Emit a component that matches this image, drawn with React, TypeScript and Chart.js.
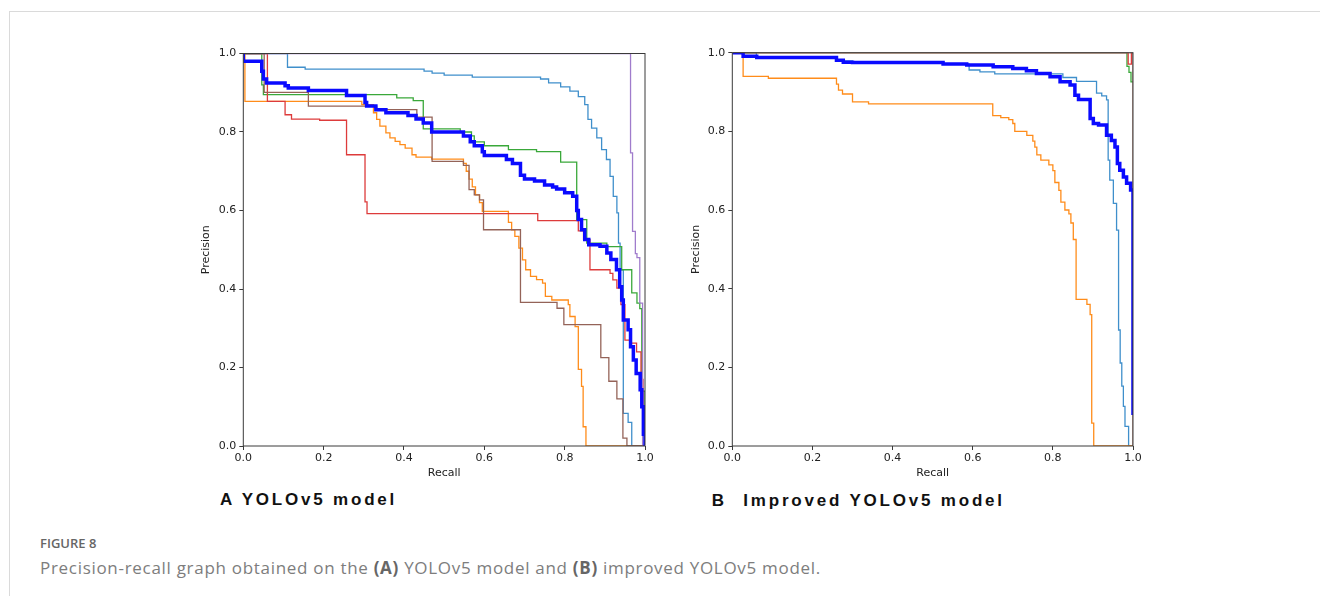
import React, { useEffect, useRef } from "react";
import { Chart, registerables } from "chart.js";

Chart.register(...registerables);

// ---------- tick labels ----------
const axisTicks = [0, 0.2, 0.4, 0.6, 0.8, 1.0];

// ---------- Panel A: YOLOv5 model ----------
const aAllRecall = [0, 0, 0.046, 0.05, 0.058, 0.104, 0.112, 0.162, 0.257, 0.303, 0.307, 0.33, 0.355, 0.41, 0.43, 0.448, 0.469, 0.548, 0.565, 0.575, 0.595, 0.6, 0.655, 0.67, 0.69, 0.7, 0.725, 0.75, 0.77, 0.78, 0.8, 0.82, 0.83, 0.834, 0.842, 0.85, 0.86, 0.888, 0.905, 0.915, 0.929, 0.937, 0.942, 0.946, 0.958, 0.964, 0.971, 0.978, 0.988, 0.992, 0.996, 1.0];
const aAllPrecision = [1.0, 0.98, 0.955, 0.935, 0.925, 0.918, 0.912, 0.906, 0.893, 0.875, 0.866, 0.857, 0.849, 0.842, 0.833, 0.823, 0.8, 0.79, 0.775, 0.765, 0.75, 0.74, 0.73, 0.72, 0.69, 0.68, 0.675, 0.665, 0.66, 0.655, 0.645, 0.636, 0.6, 0.577, 0.551, 0.526, 0.513, 0.509, 0.492, 0.475, 0.449, 0.406, 0.372, 0.321, 0.296, 0.253, 0.219, 0.185, 0.143, 0.1, 0.03, 0.0];

const aBlueRecall = [0, 0.11, 0.154, 0.45, 0.47, 0.5, 0.57, 0.74, 0.76, 0.79, 0.813, 0.834, 0.85, 0.858, 0.867, 0.88, 0.892, 0.904, 0.913, 0.921, 0.93, 0.934, 0.938, 0.946, 0.958, 0.967, 1.0];
const aBluePrecision = [1.0, 0.965, 0.96, 0.955, 0.95, 0.945, 0.94, 0.935, 0.925, 0.915, 0.904, 0.89, 0.87, 0.832, 0.81, 0.785, 0.755, 0.73, 0.687, 0.636, 0.594, 0.517, 0.449, 0.083, 0.06, 0.0, 0.0];

const aOrangeRecall = [0, 0.004, 0.295, 0.324, 0.332, 0.34, 0.355, 0.365, 0.378, 0.39, 0.403, 0.42, 0.43, 0.469, 0.548, 0.555, 0.562, 0.57, 0.578, 0.588, 0.595, 0.66, 0.668, 0.676, 0.686, 0.695, 0.703, 0.715, 0.73, 0.745, 0.752, 0.768, 0.809, 0.813, 0.826, 0.834, 0.842, 0.846, 0.853, 1.0];
const aOrangePrecision = [1.0, 0.878, 0.87, 0.849, 0.832, 0.815, 0.798, 0.785, 0.776, 0.768, 0.759, 0.742, 0.736, 0.731, 0.72, 0.7, 0.68, 0.66, 0.64, 0.62, 0.598, 0.57, 0.551, 0.534, 0.504, 0.474, 0.449, 0.432, 0.424, 0.415, 0.381, 0.372, 0.36, 0.33, 0.304, 0.195, 0.152, 0.049, 0.0, 0.0];

const aGreenRecall = [0, 0.046, 0.05, 0.382, 0.423, 0.448, 0.54, 0.568, 0.575, 0.6, 0.66, 0.73, 0.79, 0.83, 0.855, 0.905, 0.942, 0.967, 0.98, 0.987, 0.992, 1.0];
const aGreenPrecision = [1.0, 0.92, 0.895, 0.887, 0.88, 0.808, 0.8, 0.79, 0.775, 0.765, 0.755, 0.75, 0.723, 0.577, 0.517, 0.508, 0.449, 0.39, 0.364, 0.35, 0.14, 0.0];

const aRedRecall = [0, 0.06, 0.104, 0.12, 0.19, 0.257, 0.303, 0.308, 0.733, 0.834, 0.847, 0.863, 0.913, 0.92, 0.93, 0.94, 0.95, 0.963, 0.979, 0.99, 0.995, 1.0];
const aRedPrecision = [1.0, 0.878, 0.844, 0.833, 0.83, 0.742, 0.622, 0.592, 0.574, 0.548, 0.526, 0.449, 0.44, 0.423, 0.402, 0.36, 0.27, 0.262, 0.24, 0.17, 0.05, 0.0];

const aPurpleRecall = [0, 0.964, 0.969, 0.976, 0.98, 0.987, 0.994];
const aPurplePrecision = [1.0, 0.747, 0.547, 0.49, 0.48, 0.364, 0.0];

const aBrownRecall = [0, 0.052, 0.162, 0.332, 0.432, 0.47, 0.548, 0.562, 0.575, 0.588, 0.598, 0.69, 0.781, 0.798, 0.89, 0.91, 0.93, 0.945, 0.955, 1.0];
const aBrownPrecision = [1.0, 0.901, 0.866, 0.857, 0.838, 0.725, 0.715, 0.653, 0.64, 0.627, 0.551, 0.366, 0.351, 0.309, 0.225, 0.165, 0.12, 0.02, 0.0, 0.0];

// ---------- Panel B: Improved YOLOv5 model ----------
const bAllRecall = [0, 0.027, 0.061, 0.26, 0.277, 0.3, 0.526, 0.585, 0.651, 0.7, 0.734, 0.759, 0.793, 0.818, 0.843, 0.855, 0.864, 0.893, 0.901, 0.914, 0.934, 0.946, 0.955, 0.961, 0.967, 0.976, 0.984, 0.994, 1.0];
const bAllPrecision = [1.0, 0.991, 0.988, 0.981, 0.976, 0.975, 0.971, 0.969, 0.964, 0.96, 0.954, 0.947, 0.939, 0.926, 0.918, 0.892, 0.881, 0.833, 0.82, 0.816, 0.79, 0.777, 0.76, 0.718, 0.701, 0.684, 0.668, 0.651, 0.079];

const bBlueRecall = [0, 0.06, 0.26, 0.3, 0.526, 0.591, 0.618, 0.655, 0.825, 0.859, 0.909, 0.922, 0.934, 0.938, 0.942, 0.951, 0.959, 0.964, 0.968, 0.972, 0.976, 0.98, 0.989, 1.0];
const bBluePrecision = [1.0, 0.988, 0.979, 0.975, 0.971, 0.956, 0.951, 0.946, 0.937, 0.927, 0.897, 0.89, 0.88, 0.727, 0.676, 0.617, 0.549, 0.295, 0.211, 0.152, 0.101, 0.05, 0.0, 0.0];

const bOrangeRecall = [0, 0.027, 0.09, 0.26, 0.265, 0.275, 0.3, 0.34, 0.65, 0.67, 0.69, 0.7, 0.705, 0.735, 0.75, 0.755, 0.76, 0.77, 0.79, 0.8, 0.805, 0.815, 0.82, 0.83, 0.84, 0.845, 0.851, 0.858, 0.885, 0.893, 0.897, 0.902, 1.0];
const bOrangePrecision = [1.0, 0.94, 0.935, 0.92, 0.905, 0.895, 0.875, 0.87, 0.84, 0.835, 0.83, 0.82, 0.8, 0.79, 0.775, 0.76, 0.74, 0.727, 0.715, 0.7, 0.67, 0.65, 0.62, 0.6, 0.59, 0.567, 0.525, 0.373, 0.36, 0.334, 0.058, 0.0, 0.0];

const bGreenRecall = [0, 0.985, 0.99, 0.995, 1.0];
const bGreenPrecision = [1.0, 0.965, 0.95, 0.926, 0.926];

const bRedRecall = [0, 0.988, 0.996, 1.0];
const bRedPrecision = [1.0, 0.971, 1.0, 1.0];

const bBrownRecall = [0, 1.0];
const bBrownPrecision = [1.0, 0.0];

// ---------- styles ----------
const COLORS = {
  all: "#0a0aff",
  blue: "#3f8fcb",
  orange: "#ff8c1a",
  green: "#3aa83a",
  red: "#dd3b3b",
  purple: "#a07ccc",
  brown: "#946358",
};

type Series = { recall: number[]; precision: number[]; color: string; width: number };

// first entry is drawn on top in Chart.js
const panelASeries: Series[] = [
  { recall: aAllRecall, precision: aAllPrecision, color: COLORS.all, width: 3.5 },
  { recall: aBrownRecall, precision: aBrownPrecision, color: COLORS.brown, width: 1.3 },
  { recall: aPurpleRecall, precision: aPurplePrecision, color: COLORS.purple, width: 1.3 },
  { recall: aRedRecall, precision: aRedPrecision, color: COLORS.red, width: 1.3 },
  { recall: aGreenRecall, precision: aGreenPrecision, color: COLORS.green, width: 1.3 },
  { recall: aOrangeRecall, precision: aOrangePrecision, color: COLORS.orange, width: 1.3 },
  { recall: aBlueRecall, precision: aBluePrecision, color: COLORS.blue, width: 1.3 },
];

const panelBSeries: Series[] = [
  { recall: bAllRecall, precision: bAllPrecision, color: COLORS.all, width: 3.5 },
  { recall: bBrownRecall, precision: bBrownPrecision, color: COLORS.brown, width: 1.3 },
  { recall: bRedRecall, precision: bRedPrecision, color: COLORS.red, width: 1.3 },
  { recall: bGreenRecall, precision: bGreenPrecision, color: COLORS.green, width: 1.3 },
  { recall: bOrangeRecall, precision: bOrangePrecision, color: COLORS.orange, width: 1.3 },
  { recall: bBlueRecall, precision: bBluePrecision, color: COLORS.blue, width: 1.3 },
];

const framePlugin = {
  id: "frame",
  afterDatasetsDraw(chart: any) {
    const { ctx, chartArea } = chart;
    ctx.save();
    ctx.strokeStyle = "#3a3a3a";
    ctx.lineWidth = 1;
    ctx.strokeRect(chartArea.left, chartArea.top, chartArea.right - chartArea.left, chartArea.bottom - chartArea.top);
    ctx.restore();
  },
};

type Geom = { left: number; top: number; width: number; height: number; yAxisWidth: number; padTop: number; padRight: number; xAxisHeight: number };

function PRPanel({ series, geom }: { series: Series[]; geom: Geom }) {
  const ref = useRef<HTMLCanvasElement | null>(null);
  useEffect(() => {
    if (!ref.current) return;
    const tickFont = { family: "'DejaVu Sans', sans-serif", size: 11 };
    const chart = new Chart(ref.current, {
      type: "line",
      data: {
        datasets: series.map((s) => ({
          data: s.recall.map((r, i) => ({ x: r, y: s.precision[i] })),
          borderColor: s.color,
          backgroundColor: s.color,
          borderWidth: s.width,
          pointRadius: 0,
          stepped: true,
          fill: false,
        })),
      },
      options: {
        animation: false,
        responsive: false,
        maintainAspectRatio: false,
        events: [],
        layout: { padding: { top: geom.padTop, right: geom.padRight, left: 0, bottom: 0 } },
        plugins: { legend: { display: false }, tooltip: { enabled: false } },
        scales: {
          x: {
            type: "linear",
            min: 0,
            max: 1,
            afterBuildTicks: (scale: any) => {
              scale.ticks = axisTicks.map((v) => ({ value: v }));
            },
            afterFit: (scale: any) => {
              scale.height = geom.xAxisHeight;
            },
            ticks: {
              autoSkip: false,
              maxRotation: 0,
              padding: 2,
              color: "#222",
              font: tickFont,
              callback: (v: any) => Number(v).toFixed(1),
            },
            grid: { drawOnChartArea: false, drawTicks: true, tickLength: 4, color: "#3a3a3a" },
            border: { display: false },
            title: { display: true, text: "Recall", color: "#222", font: tickFont, padding: { top: 0, bottom: 0 } },
          },
          y: {
            type: "linear",
            min: 0,
            max: 1,
            afterBuildTicks: (scale: any) => {
              scale.ticks = axisTicks.map((v) => ({ value: v }));
            },
            afterFit: (scale: any) => {
              scale.width = geom.yAxisWidth;
            },
            ticks: {
              autoSkip: false,
              padding: 3,
              color: "#222",
              font: tickFont,
              callback: (v: any) => Number(v).toFixed(1),
            },
            grid: { drawOnChartArea: false, drawTicks: true, tickLength: 4, color: "#3a3a3a" },
            border: { display: false },
            title: { display: true, text: "Precision", color: "#222", font: tickFont, padding: { top: 19.4, bottom: 0 } },
          },
        },
      },
      plugins: [framePlugin],
    } as any);
    return () => chart.destroy();
  }, []);
  return (
    <canvas
      ref={ref}
      width={geom.width}
      height={geom.height}
      style={{ position: "absolute", left: geom.left, top: geom.top, width: geom.width, height: geom.height }}
    />
  );
}

const geomA: Geom = { left: 180, top: 40, width: 480, height: 440, yAxisWidth: 63.3, padTop: 13.5, padRight: 15, xAxisHeight: 34 };
const geomB: Geom = { left: 670, top: 40, width: 480, height: 440, yAxisWidth: 62.3, padTop: 12.7, padRight: 17, xAxisHeight: 34 };

const labelStyle: React.CSSProperties = {
  position: "absolute",
  fontFamily: "'Liberation Sans', Arial, sans-serif",
  fontWeight: 700,
  fontSize: 17,
  lineHeight: "20px",
  letterSpacing: "2.8px",
  color: "#111",
  whiteSpace: "nowrap",
};

export default function App() {
  return (
    <div style={{ position: "fixed", left: 0, top: 0, width: 1320, height: 596, overflow: "hidden", background: "#fff" }}>
      <div style={{ position: "absolute", left: 9, top: 11, width: 1400, height: 700, border: "1px solid #dadada" }} />
      <PRPanel series={panelASeries} geom={geomA} />
      <PRPanel series={panelBSeries} geom={geomB} />
      <div style={{ ...labelStyle, left: 220, top: 490.3 }}>A YOLOv5 model</div>
      <div style={{ ...labelStyle, left: 711.7, top: 491.3 }}>B</div>
      <div style={{ ...labelStyle, left: 743.3, top: 491.3 }}>Improved YOLOv5 model</div>
      <div
        style={{
          position: "absolute",
          left: 40,
          top: 533.5,
          fontFamily: "'Open Sans', sans-serif",
          fontWeight: 600,
          fontSize: 13,
          lineHeight: "18px",
          color: "#666",
          whiteSpace: "nowrap",
        }}
      >
        FIGURE 8
      </div>
      <div
        style={{
          position: "absolute",
          left: 40,
          top: 557,
          fontFamily: "'Open Sans', sans-serif",
          fontSize: 17,
          lineHeight: "22px",
          letterSpacing: "0.7px",
          color: "#7d7d7d",
          whiteSpace: "nowrap",
        }}
      >
        Precision-recall graph obtained on the <b style={{ color: "#666" }}>(A)</b> YOLOv5 model and <b style={{ color: "#666" }}>(B)</b> improved YOLOv5 model.
      </div>
    </div>
  );
}
